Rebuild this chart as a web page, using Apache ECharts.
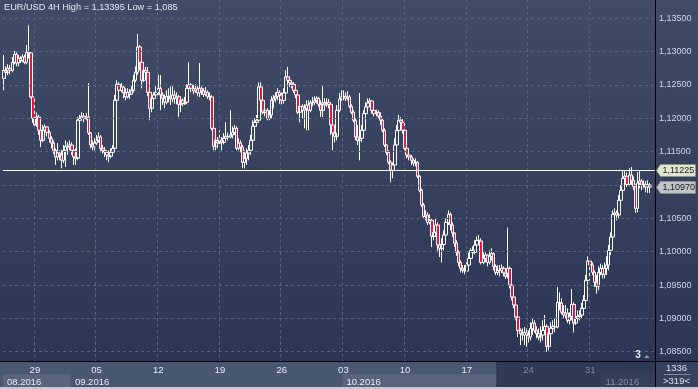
<!DOCTYPE html>
<html><head><meta charset="utf-8">
<script src="https://cdn.jsdelivr.net/npm/echarts@6/dist/echarts.min.js"></script>
<style>html,body{margin:0;padding:0;background:#c6cad2;overflow:hidden}#c{width:698px;height:389px}</style>
</head><body><div id="c"></div>
<script>
// ---- data ----
const titleText = 'EUR/USD 4H High = 1,13395 Low = 1,085';
const startTime = Date.UTC(2016, 7, 24, 12); // first 4H bar
const barSlots = 317;
const firstOpen = 1.1260;
const closes = [
1.1272,1.1269,1.1275,1.1272,1.1284,1.1296,1.1283,1.1290,1.1287,1.1292,
1.1284,1.1299,1.1298,1.1232,1.1200,1.1190,1.1202,1.1182,1.1167,1.1182,
1.1187,1.1179,1.1170,1.1163,1.1152,1.1142,1.1148,1.1145,1.1137,1.1152,
1.1158,1.1157,1.1160,1.1152,1.1142,1.1140,1.1197,1.1200,1.1203,1.1200,
1.1202,1.1178,1.1160,1.1157,1.1163,1.1167,1.1172,1.1155,1.1152,1.1149,
1.1145,1.1143,1.1149,1.1155,1.1227,1.1251,1.1242,1.1247,1.1238,1.1232,
1.1239,1.1236,1.1242,1.1257,1.1269,1.1307,1.1284,1.1257,1.1272,1.1269,
1.1239,1.1215,1.1230,1.1235,1.1239,1.1245,1.1235,1.1230,1.1224,1.1233,
1.1232,1.1229,1.1235,1.1230,1.1232,1.1221,1.1227,1.1222,1.1224,1.1245,
1.1250,1.1245,1.1241,1.1244,1.1238,1.1245,1.1241,1.1236,1.1239,1.1233,
1.1232,1.1185,1.1158,1.1167,1.1163,1.1167,1.1164,1.1170,1.1173,1.1172,
1.1175,1.1179,1.1185,1.1155,1.1163,1.1157,1.1134,1.1140,1.1148,1.1152,
1.1167,1.1188,1.1194,1.1197,1.1247,1.1227,1.1209,1.1212,1.1200,1.1205,
1.1227,1.1230,1.1233,1.1239,1.1235,1.1227,1.1238,1.1262,1.1257,1.1253,
1.1251,1.1242,1.1235,1.1209,1.1218,1.1212,1.1215,1.1220,1.1212,1.1223,
1.1224,1.1227,1.1230,1.1221,1.1212,1.1223,1.1220,1.1224,1.1221,1.1190,
1.1178,1.1173,1.1212,1.1229,1.1232,1.1233,1.1230,1.1232,1.1218,1.1209,
1.1197,1.1172,1.1167,1.1170,1.1182,1.1207,1.1217,1.1223,1.1226,1.1212,
1.1207,1.1209,1.1203,1.1197,1.1182,1.1160,1.1149,1.1134,1.1122,1.1130,
1.1160,1.1182,1.1197,1.1194,1.1182,1.1155,1.1145,1.1142,1.1137,1.1133,
1.1134,1.1113,1.1092,1.1070,1.1053,1.1055,1.1044,1.1047,1.1023,1.1029,
1.1040,1.1010,1.1005,1.1011,1.1025,1.1044,1.1056,1.1040,1.1028,1.1013,
1.0999,1.0984,1.0975,1.0972,1.0971,1.0980,1.0990,1.1002,1.0999,1.1010,
1.1017,1.1016,1.0984,1.0990,1.0995,1.0984,1.0993,1.0997,1.0978,1.0969,
1.0972,1.0972,1.0975,1.0968,1.0963,1.0975,1.0950,1.0932,1.0920,1.0902,
1.0882,1.0877,1.0875,1.0879,1.0875,1.0872,1.0885,1.0893,1.0882,1.0877,
1.0872,1.0875,1.0882,1.0888,1.0858,1.0877,1.0885,1.0888,1.0887,1.0924,
1.0923,1.0909,1.0905,1.0908,1.0897,1.0903,1.0921,1.0893,1.0900,1.0903,
1.0905,1.0915,1.0927,1.0957,1.0986,1.0980,1.0969,1.0954,1.0948,1.0969,
1.0975,1.0966,1.0975,1.0980,1.1002,1.1022,1.1056,1.1058,1.1055,1.1077,
1.1092,1.1110,1.1113,1.1101,1.1115,1.1107,1.1098,1.1065,1.1103,1.1106,
1.1100,1.1101,1.1097,1.1100,1.1097];
const highs = [
1.1295,1.1278,1.1281,1.1280,1.1292,1.1301,1.1299,1.1295,1.1293,1.1296,
1.1295,1.1310,1.13395,1.1299,1.1235,1.1209,1.1209,1.1205,1.1187,1.1190,
1.1191,1.1188,1.1182,1.1173,1.1167,1.1155,1.1163,1.1152,1.1152,1.1160,
1.1167,1.1164,1.1167,1.1164,1.1157,1.1155,1.1202,1.1205,1.1209,1.1208,
1.1208,1.1253,1.1179,1.1167,1.1170,1.1175,1.1179,1.1175,1.1160,1.1157,
1.1152,1.1152,1.1155,1.1160,1.1235,1.1257,1.1254,1.1253,1.1250,1.1245,
1.1245,1.1244,1.1248,1.1265,1.1278,1.1326,1.1310,1.1287,1.1283,1.1277,
1.1277,1.1239,1.1236,1.1239,1.1250,1.1265,1.1265,1.1239,1.1236,1.1242,
1.1245,1.1248,1.1248,1.1242,1.1239,1.1235,1.1233,1.1230,1.1232,1.1251,
1.1284,1.1253,1.1250,1.1251,1.1250,1.1283,1.1248,1.1245,1.1247,1.1242,
1.1239,1.1235,1.1187,1.1175,1.1172,1.1182,1.1172,1.1178,1.1194,1.1179,
1.1212,1.1188,1.1190,1.1188,1.1170,1.1167,1.1160,1.1152,1.1155,1.1160,
1.1175,1.1197,1.1200,1.1205,1.1254,1.1254,1.1230,1.1221,1.1215,1.1212,
1.1233,1.1235,1.1239,1.1245,1.1242,1.1239,1.1245,1.1272,1.1277,1.1263,
1.1257,1.1254,1.1245,1.1239,1.1221,1.1221,1.1221,1.1227,1.1227,1.1227,
1.1232,1.1233,1.1233,1.1232,1.1227,1.1250,1.1230,1.1230,1.1229,1.1223,
1.1197,1.1182,1.1220,1.1238,1.1242,1.1242,1.1239,1.1241,1.1235,1.1221,
1.1212,1.1200,1.1190,1.1238,1.1190,1.1212,1.1224,1.1230,1.1230,1.1227,
1.1215,1.1213,1.1212,1.1209,1.1200,1.1185,1.1161,1.1152,1.1137,1.1134,
1.1170,1.1190,1.1205,1.1202,1.1199,1.1185,1.1158,1.1149,1.1145,1.1140,
1.1140,1.1136,1.1115,1.1095,1.1073,1.1062,1.1059,1.1056,1.1050,1.1047,
1.1050,1.1044,1.1017,1.1020,1.1032,1.1050,1.1062,1.1059,1.1044,1.1029,
1.1017,1.1002,1.0987,1.0980,1.0980,1.0984,1.0999,1.1005,1.1008,1.1017,
1.1023,1.1025,1.1020,1.0999,1.0999,1.0996,1.1002,1.1005,1.0999,1.0981,
1.0980,1.0980,1.0981,1.0978,1.0975,1.1036,1.0978,1.0951,1.0935,1.0923,
1.0905,1.0885,1.0885,1.0887,1.0885,1.0882,1.0894,1.0900,1.0897,1.0888,
1.0885,1.0888,1.0897,1.0905,1.0891,1.0887,1.0894,1.0897,1.0900,1.0947,
1.0939,1.0930,1.0920,1.0920,1.0915,1.0909,1.0944,1.0924,1.0909,1.0912,
1.0912,1.0923,1.0935,1.0965,1.0993,1.0990,1.0984,1.0972,1.0965,1.0978,
1.0982,1.0980,1.0984,1.0993,1.1010,1.1029,1.1062,1.1065,1.1062,1.1085,
1.1100,1.1122,1.1122,1.1119,1.1125,1.1127,1.1113,1.1101,1.1119,1.1122,
1.1109,1.1107,1.1106,1.1107,1.1103];
const lows = [
1.1242,1.1260,1.1265,1.1266,1.1269,1.1281,1.1278,1.1278,1.1283,1.1284,
1.1281,1.1281,1.1290,1.1230,1.1193,1.1185,1.1187,1.1175,1.1157,1.1164,
1.1175,1.1173,1.1164,1.1155,1.1147,1.1130,1.1137,1.1137,1.1125,1.1133,
1.1127,1.1145,1.1152,1.1145,1.1130,1.1130,1.1137,1.1194,1.1197,1.1194,
1.1197,1.1175,1.1155,1.1152,1.1152,1.1160,1.1164,1.1149,1.1147,1.1142,
1.1137,1.1134,1.1140,1.1145,1.1152,1.1227,1.1238,1.1239,1.1230,1.1227,
1.1230,1.1229,1.1235,1.1239,1.1254,1.1265,1.1272,1.1245,1.1254,1.1260,
1.1233,1.1197,1.1209,1.1227,1.1230,1.1235,1.1212,1.1220,1.1215,1.1221,
1.1224,1.1220,1.1224,1.1222,1.1221,1.1202,1.1209,1.1218,1.1220,1.1221,
1.1239,1.1239,1.1236,1.1238,1.1233,1.1232,1.1235,1.1232,1.1233,1.1229,
1.1227,1.1182,1.1152,1.1152,1.1155,1.1160,1.1152,1.1161,1.1169,1.1167,
1.1170,1.1170,1.1175,1.1152,1.1152,1.1149,1.1125,1.1125,1.1130,1.1137,
1.1145,1.1164,1.1185,1.1188,1.1194,1.1224,1.1206,1.1203,1.1197,1.1197,
1.1200,1.1215,1.1224,1.1227,1.1222,1.1221,1.1222,1.1235,1.1251,1.1247,
1.1245,1.1238,1.1230,1.1206,1.1194,1.1200,1.1185,1.1182,1.1182,1.1209,
1.1218,1.1220,1.1222,1.1217,1.1202,1.1202,1.1212,1.1217,1.1215,1.1175,
1.1152,1.1164,1.1167,1.1209,1.1226,1.1227,1.1226,1.1227,1.1215,1.1206,
1.1194,1.1167,1.1160,1.1137,1.1164,1.1179,1.1205,1.1212,1.1218,1.1207,
1.1203,1.1203,1.1200,1.1190,1.1179,1.1157,1.1145,1.1131,1.1104,1.1110,
1.1122,1.1155,1.1167,1.1188,1.1177,1.1152,1.1140,1.1137,1.1130,1.1128,
1.1128,1.1110,1.1089,1.1067,1.1050,1.1047,1.1040,1.1041,1.1007,1.1017,
1.1022,1.0999,1.0992,1.0984,1.1002,1.1020,1.1040,1.1032,1.1022,1.1007,
1.0994,1.0978,1.0969,1.0968,1.0966,1.0968,1.0977,1.0987,1.0993,1.0996,
1.1007,1.1010,1.0981,1.0981,1.0984,1.0978,1.0981,1.0987,1.0972,1.0965,
1.0965,1.0963,1.0968,1.0963,1.0959,1.0960,1.0945,1.0927,1.0915,1.0897,
1.0872,1.0860,1.0867,1.0860,1.0857,1.0864,1.0867,1.0875,1.0878,1.0870,
1.0867,1.0864,1.0867,1.0879,1.0850,1.0852,1.0875,1.0882,1.0879,1.0885,
1.0912,1.0906,1.0900,1.0900,1.0893,1.0891,1.0897,1.0879,1.0890,1.0894,
1.0897,1.0900,1.0912,1.0923,1.0950,1.0972,1.0965,1.0947,1.0937,1.0942,
1.0965,1.0960,1.0960,1.0965,1.0972,1.0995,1.1017,1.1050,1.1047,1.1050,
1.1077,1.1085,1.1100,1.1097,1.1098,1.1100,1.1092,1.1058,1.1059,1.1095,
1.1092,1.1095,1.1089,1.1088,1.1088];
const levelLine = 1.11225;
const shadeFromCat = '2016-10-19T12';
const footerTop = '1336', footerBottom = '>319<', markerText = '3';

// ---- categories (4H bars, weekdays only) ----
const categories = [];
for (let t = startTime; categories.length < barSlots; t += 4 * 3600 * 1000) {
  const d = new Date(t), wd = d.getUTCDay();
  if (wd !== 0 && wd !== 6) categories.push(d.toISOString().slice(0, 13));
}
const nBars = closes.length;
const isWeekStart = (i, v) => i < nBars && new Date(v + ':00:00Z').getUTCDay() === 1 && v.slice(11, 13) === '00';
const isMonthStart = (i, v) => i < nBars && (i === 0 || categories[i - 1].slice(5, 7) !== v.slice(5, 7));
let shadeIdx = categories.indexOf(shadeFromCat);
if (shadeIdx < 0) shadeIdx = nBars;

const ohlc = closes.map((c, i) => {
  const o = i === 0 ? firstOpen : closes[i - 1];
  return [o, c, Math.min(lows[i], o, c), Math.max(highs[i], o, c)];
});
const lastPrice = closes[nBars - 1];
const fmt = v => v.toFixed(5).replace('.', ',');
const FONT = '"Liberation Sans", Arial, sans-serif';
const labelColor = v => (categories.indexOf(v) >= shadeIdx ? '#7d8ba3' : '#e6ecf5');

const chart = echarts.init(document.getElementById('c'));
const gridL = 3, gridR = 43, gridT = 0, gridB = 28;
chart.setOption({
  animation: false,
  backgroundColor: new echarts.graphic.LinearGradient(0, 0, 0, 1, [
    {offset: 0, color: '#3f4b67'}, {offset: 1, color: '#2a3553'}]),
  title: {text: titleText, left: 4, top: 3, padding: 0,
    textStyle: {color: '#e2e8f2', fontSize: 9.2, fontWeight: 'normal', fontFamily: FONT}},
  grid: {left: gridL, right: gridR, top: gridT, bottom: gridB},
  xAxis: [{
    type: 'category', data: categories, boundaryGap: true, position: 'bottom', z: 5,
    axisLine: {show: true, lineStyle: {color: '#000', width: 1}},
    axisTick: {show: false},
    splitLine: {show: true, interval: isWeekStart,
      lineStyle: {color: '#56627e', type: [3, 3], width: 1}},
    axisLabel: {interval: isWeekStart, formatter: v => v.slice(8, 10),
      color: labelColor, fontSize: 9.5, fontFamily: FONT, margin: 4}
  }, {
    type: 'category', data: categories, boundaryGap: true, position: 'bottom', z: 5,
    axisLine: {show: false}, axisTick: {show: false}, splitLine: {show: false},
    axisLabel: {interval: isMonthStart, align: 'left', padding: [0, 0, 0, 3],
      formatter: v => v.slice(5, 7) + '.' + v.slice(0, 4),
      color: labelColor, fontSize: 9.5, fontFamily: FONT, margin: 16}
  }],
  yAxis: {
    type: 'value', position: 'right', min: 1.08361, max: 1.13774, splitNumber: 11, z: 5,
    axisLine: {show: true, lineStyle: {color: '#000', width: 1}},
    axisTick: {show: false},
    splitLine: {show: true, showMinLine: false, showMaxLine: false,
      lineStyle: {color: '#56627e', type: [3, 3], width: 1}},
    axisLabel: {formatter: v => fmt(v), color: '#c8d6ee', fontSize: 9, fontFamily: FONT,
      margin: 4, showMinLabel: false, showMaxLabel: false}
  },
  series: [{
    type: 'candlestick', data: ohlc, barWidth: 3,
    itemStyle: {color: 'rgba(0,0,0,0)', color0: '#e8173f', borderColor: '#ffffff',
      borderColor0: '#ffffff', borderWidth: 1},
    markLine: {silent: true, precision: 5, symbol: ['none', 'none'], label: {show: false},
      lineStyle: {color: '#ffffff', width: 1, type: 'solid'},
      data: [{yAxis: levelLine}]}
  }]
});

// ---- decorations positioned from the axes ----
const W = 698, H = 389;
const plotR = W - gridR, plotB = H - gridB;
const cx = i => chart.convertToPixel({xAxisIndex: 0}, i);
const bw = cx(1) - cx(0);
const edge = i => cx(i) - bw / 2;
const py = v => chart.convertToPixel({yAxisIndex: 0}, v);
const monthIdx = categories.map((v, i) => isMonthStart(i, v) ? i : -1).filter(i => i >= 0);
const sepX = edge(monthIdx[1]), octX = edge(monthIdx[2]), novX = edge(monthIdx[3]), shadeX = edge(shadeIdx);
const rowMid = plotB + 13;
const rect = (x, y, w, h, fill) => ({type: 'rect', z: 1, silent: true, shape: {x, y, width: w, height: h}, style: {fill}});
const tag = (value, fill) => {
  const y = Math.round(py(value)) + 0.5, x0 = plotR + 1.5;
  return {type: 'group', z: 50, children: [
    {type: 'polygon', z: 50, shape: {points: [[x0, y], [x0 + 4, y - 6], [x0 + 39, y - 6], [x0 + 39, y + 6], [x0 + 4, y + 6]]},
      style: {fill, stroke: '#8c9282', lineWidth: 0.6}},
    {type: 'text', z: 51, x: x0 + 6, y: y + 0.5, style: {text: fmt(value), fill: '#1c1c1c', font: '9px ' + FONT,
      textAlign: 'left', textVerticalAlign: 'middle', align: 'left', verticalAlign: 'middle'}}
  ]};
};
const mk = cx(nBars) - 14;
chart.setOption({graphic: {elements: [
  rect(0, plotB, plotR, rowMid - plotB, '#4a5771'),
  rect(shadeX, plotB, plotR - shadeX, rowMid - plotB, '#2e3a56'),
  rect(0, rowMid, plotR, H - rowMid, '#4a5771'),
  rect(gridL, rowMid, sepX - gridL, H - rowMid, '#58647c'),
  rect(octX, rowMid, shadeX - octX, H - rowMid, '#58647c'),
  rect(shadeX, rowMid, novX - shadeX, H - rowMid, '#2e3a56'),
  rect(novX, rowMid, plotR - novX, H - rowMid, '#333f5b'),
  rect(plotR, plotB, W - plotR, H - plotB, '#36425d'),
  rect(0, H - 2, W, 2, '#c6cad2'),
  {type: 'line', z: 20, shape: {x1: 0, y1: plotB + 0.5, x2: W, y2: plotB + 0.5}, style: {stroke: '#000', lineWidth: 1}},
  {type: 'line', z: 20, shape: {x1: plotR + 0.5, y1: 0, x2: plotR + 0.5, y2: H - 2}, style: {stroke: '#000', lineWidth: 1}},
  {type: 'line', z: 20, shape: {x1: shadeX + 0.5, y1: plotB + 1, x2: shadeX + 0.5, y2: H - 2}, style: {stroke: '#2a344c', lineWidth: 1}},
  {type: 'text', z: 20, x: (plotR + W) / 2, y: plotB + 7, style: {text: footerTop, fill: '#d6e0f0', font: '9.5px ' + FONT,
    textAlign: 'center', textVerticalAlign: 'middle', align: 'center', verticalAlign: 'middle'}},
  {type: 'line', z: 20, shape: {x1: plotR + 9, y1: plotB + 13.5, x2: W - 7, y2: plotB + 13.5}, style: {stroke: '#7d8aa2', lineWidth: 1}},
  {type: 'text', z: 20, x: (plotR + W) / 2, y: plotB + 20, style: {text: footerBottom, fill: '#d6e0f0', font: '9.5px ' + FONT,
    textAlign: 'center', textVerticalAlign: 'middle', align: 'center', verticalAlign: 'middle'}},
  {type: 'text', z: 20, x: mk, y: plotB - 6, style: {text: markerText, fill: '#e4ebf6', font: 'bold 10px ' + FONT,
    textAlign: 'center', textVerticalAlign: 'middle', align: 'center', verticalAlign: 'middle'}},
  {type: 'polygon', z: 20, shape: {points: [[mk + 6, plotB - 3], [mk + 9, plotB - 6], [mk + 12, plotB - 3]]},
    style: {fill: '#8a94a6'}},
  tag(levelLine, '#e1e5cd'),
  tag(lastPrice, '#c0c4c8')
]}});
</script></body></html>
